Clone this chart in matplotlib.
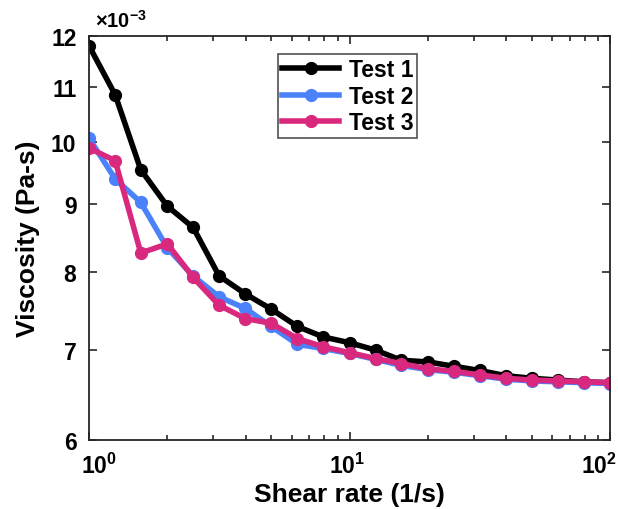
import matplotlib
matplotlib.use("Agg")
import matplotlib.pyplot as plt
from matplotlib.ticker import NullLocator, FixedLocator, FixedFormatter, LogLocator
import matplotlib.transforms as mtransforms

plt.rcParams['font.family'] = ['Liberation Sans', 'DejaVu Sans']
plt.rcParams['font.weight'] = 'bold'
plt.rcParams['mathtext.fontset'] = 'custom'
plt.rcParams['mathtext.rm'] = 'Liberation Sans:bold'
plt.rcParams['mathtext.bf'] = 'Liberation Sans:bold'
plt.rcParams['mathtext.default'] = 'bf'

# ---- data ----
shear_rate = [1.0, 1.26, 1.58, 2.0, 2.51, 3.16, 3.98, 5.01, 6.31, 7.94, 10.0,
              12.6, 15.8, 20.0, 25.1, 31.6, 39.8, 50.1, 63.1, 79.4, 100.0]
test1 = [11.80, 10.85, 9.54, 8.96, 8.64, 7.95, 7.71, 7.51, 7.29, 7.16, 7.09,
         7.00, 6.88, 6.86, 6.81, 6.76, 6.70, 6.67, 6.65, 6.63, 6.62]
test2 = [10.07, 9.39, 9.02, 8.34, 7.95, 7.67, 7.52, 7.29, 7.07, 7.02, 6.96,
         6.89, 6.82, 6.77, 6.74, 6.70, 6.66, 6.64, 6.63, 6.62, 6.61]
test3 = [9.90, 9.69, 8.27, 8.40, 7.93, 7.56, 7.39, 7.33, 7.14, 7.04, 6.97,
         6.90, 6.84, 6.78, 6.75, 6.71, 6.67, 6.65, 6.64, 6.63, 6.62]
series_names = ["Test 1", "Test 2", "Test 3"]
series_colors = ["#000000", "#4b82fa", "#d9297f"]
scale = 1e-3

y_ticks = [6, 7, 8, 9, 10, 11, 12]
y_ticklabels = ["6", "7", "8", "9", "10", "11", "12"]
x_ticks = [1, 10, 100]
x_ticklabels = [r"$10^{0}$", r"$10^{1}$", r"$10^{2}$"]

fig = plt.figure(figsize=(6.18, 5.10), dpi=100)
ax = fig.add_axes([89/618, 69/510, 521/618, 404/510])

for name, vals, col in zip(series_names, [test1, test2, test3], series_colors):
    ax.plot(shear_rate, [v * scale for v in vals], '-o', color=col, lw=4,
            markersize=8.5, label=name, clip_on=True)

ax.set_xscale('log')
ax.set_yscale('log')
ax.set_xlim(1, 100)
ax.set_ylim(6e-3, 12e-3)

ax.yaxis.set_major_locator(FixedLocator([t * scale for t in y_ticks]))
ax.yaxis.set_major_formatter(FixedFormatter(y_ticklabels))
ax.yaxis.set_minor_locator(NullLocator())
ax.xaxis.set_major_locator(FixedLocator(x_ticks))
ax.xaxis.set_major_formatter(FixedFormatter(x_ticklabels))
ax.xaxis.set_minor_locator(LogLocator(base=10, subs=range(2, 10)))

ax.tick_params(which='both', direction='in', top=True, right=True, colors='#262626',
               labelcolor='black', width=1.2)
ax.tick_params(which='major', length=6, labelsize=16.5, pad=9)
ax.tick_params(which='minor', length=3.5)
for sp in ax.spines.values():
    sp.set_color('#262626')
    sp.set_linewidth(1.3)

# offset first/last x tick labels as in the reference
offsets = [10, -2, -11]
for lab, dx in zip(ax.get_xticklabels(), offsets):
    lab.set_transform(lab.get_transform() + mtransforms.ScaledTranslation(dx / 100, 0, fig.dpi_scale_trans))

ax.set_xlabel("Shear rate (1/s)", fontsize=19, fontweight='bold', labelpad=3)
ax.set_ylabel("Viscosity (Pa-s)", fontsize=19, fontweight='bold', labelpad=8)

ax.text(0.012, 1.012, r"$\times10^{-3}$", transform=ax.transAxes, fontsize=14.5,
        ha='left', va='bottom')

leg = ax.legend(loc='upper left', bbox_to_anchor=((278 - 89) / 521, (441 - 55) / 404),
                borderaxespad=0, fontsize=16.5, frameon=True, fancybox=False,
                edgecolor='#262626', handlelength=2.5, handletextpad=0.4,
                labelspacing=0.15, borderpad=0.18)
leg.get_frame().set_linewidth(1.2)
for t in leg.get_texts():
    t.set_fontweight('bold')

fig.savefig("out.png", dpi=100)
